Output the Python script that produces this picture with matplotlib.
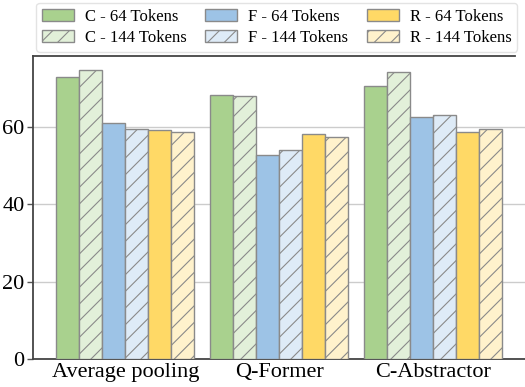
import matplotlib
matplotlib.use("Agg")
import matplotlib.pyplot as plt
import numpy as np

plt.rcParams['font.family'] = ['Liberation Serif', 'DejaVu Serif']
plt.rcParams['hatch.linewidth'] = 0.8

methods = ["Average pooling", "Q-Former", "C-Abstractor"]
series_labels = ["C - 64 Tokens", "C - 144 Tokens",
                 "F - 64 Tokens", "F - 144 Tokens",
                 "R - 64 Tokens", "R - 144 Tokens"]
c_64 = [72.7, 68.1, 70.5]
c_144 = [74.5, 67.9, 74.0]
f_64 = [61.0, 52.8, 62.4]
f_144 = [59.3, 54.1, 63.0]
r_64 = [59.1, 58.2, 58.6]
r_144 = [58.6, 57.3, 59.3]
y_ticks = [0, 20, 40, 60]

series = [c_64, c_144, f_64, f_144, r_64, r_144]
fills = ["#a9d18e", "#e2f0d9", "#9dc3e6", "#deebf7", "#ffd966", "#fff2cc"]
hatches = [None, "//", None, "//", None, "//"]

fig = plt.figure(figsize=(5.25, 3.87), dpi=100)
ax = fig.add_axes([33 / 525, 1 - 359.3 / 387, 1 - 33 / 525, (359.3 - 55.7) / 387])

x = np.arange(len(methods))
width = 0.15
handles = []
for i, (vals, fc, h) in enumerate(zip(series, fills, hatches)):
    offs = (i - 2.5) * width
    b = ax.bar(x + offs, vals, width, color=fc, edgecolor="#8a8a8a",
               linewidth=1.0, hatch=h, label=series_labels[i], zorder=3)
    handles.append(b)

ax.set_xlim(-0.6, 2.6)
ax.set_ylim(0, 78.3)
ax.set_yticks(y_ticks)
ax.set_xticks(x)
ax.set_xticklabels(methods, fontsize=16)
ax.tick_params(axis='y', labelsize=16, length=4, width=1, color="#555555", pad=2)
ax.tick_params(axis='x', length=0, pad=3)
ax.yaxis.grid(True, color="#cccccc", linewidth=1.0, zorder=0)
ax.set_axisbelow(True)

for s in ["left", "top", "bottom"]:
    ax.spines[s].set_color("#444444")
    ax.spines[s].set_linewidth(1.3)
ax.spines["right"].set_visible(False)
ax.spines["top"].set_bounds(-0.6, 2.535)

leg = fig.legend(handles=handles, labels=series_labels, ncol=3,
                 loc="upper center", bbox_to_anchor=(0.527, 1 - 3 / 387),
                 borderaxespad=0, fontsize=12, frameon=True,
                 columnspacing=1.15, labelspacing=0.3, handlelength=1.9,
                 handletextpad=0.65, borderpad=0.35, fancybox=True)
leg.get_frame().set_edgecolor("#dddddd")
leg.get_frame().set_linewidth(1.0)

fig.savefig("out.png", dpi=100)
